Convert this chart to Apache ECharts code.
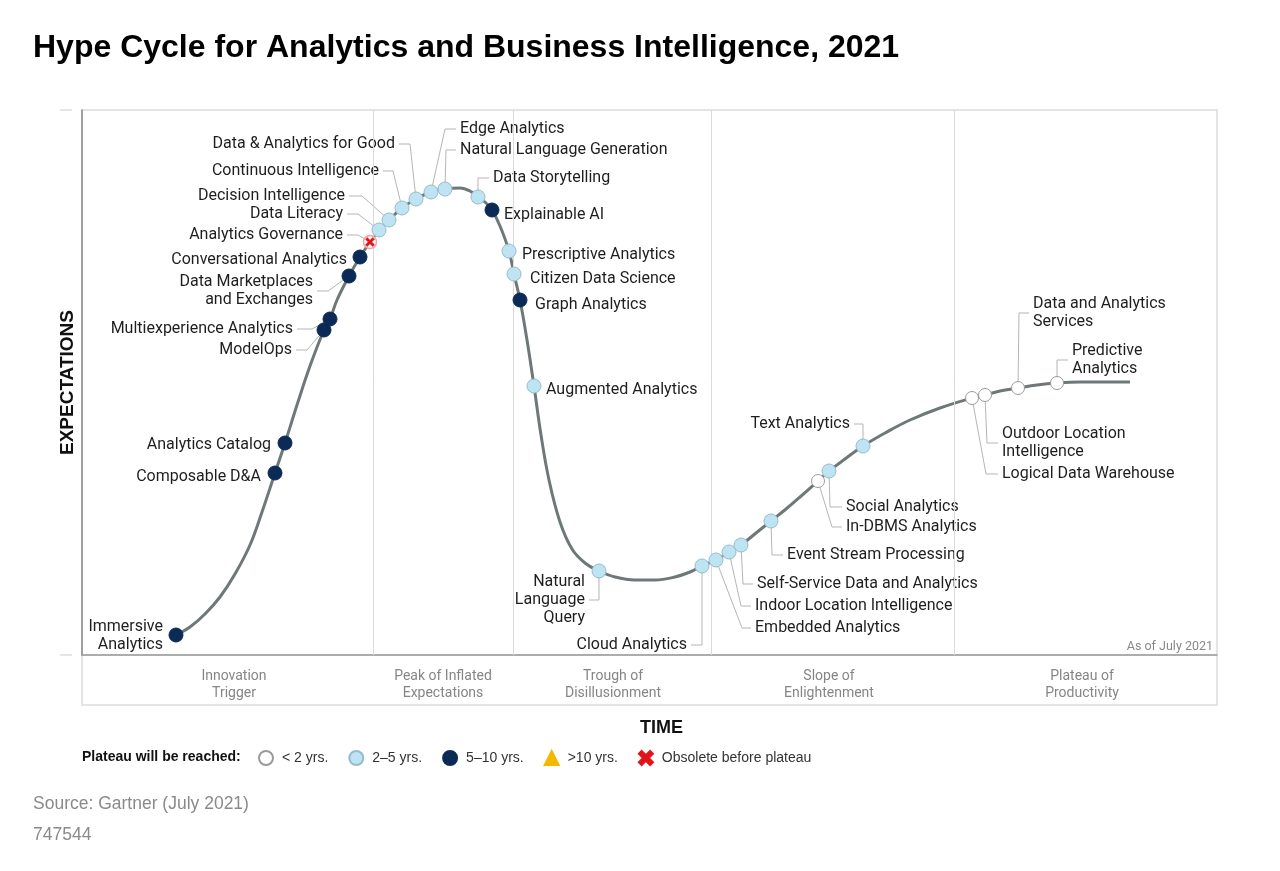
<!DOCTYPE html>
<html><head><meta charset="utf-8">
<script src="https://cdn.jsdelivr.net/npm/echarts@6/dist/echarts.min.js"></script>
<style>html,body{margin:0;padding:0;background:#fff}#c{width:1280px;height:871px}</style>
</head><body><div id="c"></div>
<script>
// ---- Data (x: time position, y: expectations level) ----
const curveX = [176,190,205,220,235,250,262,275,285,297,310,324,330,337,349,360,370,379,389,402,416,431,445,460,470,478,486,492,500,509,514,520,527,534,541,549,560,572,585,599,615,635,655,675,690,702,716,729,741,756,771,786,800,818,829,845,863,885,910,940,972,985,1000,1018,1037,1057,1080,1105,1130];
const curveY = [20,28,41,58,81,110,143,182,212,250,289,325,336,355,379,398,413,425,435,447,456,463,466,467,464,458,452,445,429,404,381,355,315,269,220,175,133,106,92,84,78,75,75,78,83,89,95,103,110,122,134,146,158,174,184,196,209,222,235,247,257,260,264,267,270,272,273,273,273];

const techNames = ["Immersive\nAnalytics","Composable D&A","Analytics Catalog","ModelOps","Multiexperience Analytics","Data Marketplaces\nand Exchanges","Conversational Analytics","Analytics Governance","Data Literacy","Decision Intelligence","Continuous Intelligence","Data & Analytics for Good","Edge Analytics","Natural Language Generation","Data Storytelling","Explainable AI","Prescriptive Analytics","Citizen Data Science","Graph Analytics","Augmented Analytics","Natural\nLanguage\nQuery","Cloud Analytics","Embedded Analytics","Indoor Location Intelligence","Self-Service Data and Analytics","Event Stream Processing","In-DBMS Analytics","Social Analytics","Text Analytics","Logical Data Warehouse","Outdoor Location\nIntelligence","Data and Analytics\nServices","Predictive\nAnalytics"];
const techX = [176,275,285,324,330,349,360,370,379,389,402,416,431,445,478,492,509,514,520,534,599,702,716,729,741,771,818,829,863,972,985,1018,1057];
const techY = [20,182,212,325,336,379,398,413,425,435,447,456,463,466,458,445,404,381,355,269,84,89,95,103,110,134,174,184,209,257,260,267,272];
// index into plateauClasses
const techPlateau = [2,2,2,2,2,2,2,4,1,1,1,1,1,1,1,2,1,1,2,1,1,1,1,1,1,1,0,1,1,0,0,0,0];
const plateauClasses = ["< 2 yrs.","2–5 yrs.","5–10 yrs.",">10 yrs.","Obsolete before plateau"];

const phaseNames = ["Innovation\nTrigger","Peak of Inflated\nExpectations","Trough of\nDisillusionment","Slope of\nEnlightenment","Plateau of\nProductivity"];
const phaseLabelX = [234,443,613,829,1082];
const phaseBounds = [373,513,711,954];

// ---- Label layout (pixel offsets from each dot): [dx, dy, align, leaderCornerDx or null] ----
const labelOffsets = [
  [-13,-1,'right',null],[-14,2,'right',null],[-14,0,'right',null],[-32,18,'right',-17],[-37,8,'right',-18],
  [-36,13,'right',-21],[-13,1,'right',null],[-27,-9,'right',-12],[-36,-18,'right',-21],[-44,-26,'right',-27],
  [-23,-39,'right',-9],[-21,-57,'right',-6],[29,-65,'left',14],[15,-41,'left',1],[15,-21,'left',0],
  [12,3,'left',null],[13,2,'left',null],[16,3,'left',null],[15,3,'left',null],[12,2,'left',null],
  [-14,27,'right',0],[-15,77,'right',0],[39,66,'left',26],[26,52,'left',12],[16,37,'left',2],
  [16,32,'left',1],[28,44,'left',14],[17,34,'left',1],[-13,-24,'right',0],[30,74,'left',14],
  [17,46,'left',2],[15,-77,'left',1],[15,-25,'left',0]
];

const COLORS = {
  white:'#ffffff', light:'#bee4f3', dark:'#0b2b56', amber:'#f5b800', red:'#e3141b'
};
const xPath = 'path://M2,0 L5,3 L8,0 L10,2 L7,5 L10,8 L8,10 L5,7 L2,10 L0,8 L3,5 L0,2 Z';

function classData(ci){
  const out=[];
  for(let i=0;i<techX.length;i++){ if(techPlateau[i]===ci) out.push([techX[i],techY[i],i]); }
  return out;
}
const curveData = curveX.map((x,i)=>[x,curveY[i]]);
const labelData = techX.map((x,i)=>[x,techY[i],i]);

const chart = echarts.init(document.getElementById('c'), null, {renderer:'canvas'});
const FONT = 'Roboto, "Noto Sans", sans-serif';
const ARIAL = '"Liberation Sans", Arial, sans-serif';

const option = {
  animation:false,
  backgroundColor:'#fff',
  title:[
    {text:'Hype Cycle for Analytics and Business Intelligence, 2021', left:28, top:27,
     textStyle:{fontFamily:ARIAL, fontSize:32, fontWeight:'bold', color:'#000'}},
    {text:'Source: Gartner (July 2021)', left:28, top:790,
     textStyle:{fontFamily:ARIAL, fontSize:17.5, fontWeight:'normal', color:'#8a8a8a'}},
    {text:'747544', left:28, top:821,
     textStyle:{fontFamily:ARIAL, fontSize:17.5, fontWeight:'normal', color:'#8a8a8a'}}
  ],
  grid:[
    {left:82, right:63, top:110, bottom:216, show:true, borderColor:'#dcdcdc', borderWidth:1.5, backgroundColor:'#fff'},
    {left:82, right:63, top:655, height:50, show:true, borderColor:'#dcdcdc', borderWidth:1.5, backgroundColor:'#fff'}
  ],
  xAxis:[
    {type:'value', gridIndex:0, min:82, max:1217, axisLine:{show:true, lineStyle:{color:'#9a9a9a', width:1.5}},
     axisTick:{show:false}, axisLabel:{show:false}, splitLine:{show:false}},
    {type:'value', gridIndex:1, min:82, max:1217, axisLine:{show:false}, axisTick:{show:false}, axisLabel:{show:false}, splitLine:{show:false},
     name:'TIME', nameLocation:'middle', nameGap:14,
     nameTextStyle:{fontFamily:ARIAL, fontSize:18, fontWeight:'bold', color:'#111', padding:[0,0,0,24]}}
  ],
  yAxis:[
    {type:'value', gridIndex:0, min:0, max:545, axisLine:{show:true, lineStyle:{color:'#8a8a8a', width:1.5}},
     axisTick:{show:false}, axisLabel:{show:false}, splitLine:{show:false},
     name:'EXPECTATIONS', nameLocation:'middle', nameRotate:90, nameGap:5,
     nameTextStyle:{fontFamily:ARIAL, fontSize:19, fontWeight:'bold', color:'#111'}},
    {type:'value', gridIndex:0, position:'left', min:0, max:545, interval:545, offset:10, axisLine:{show:false},
     axisTick:{show:true, length:12, lineStyle:{color:'#dddddd', width:1.5}}, axisLabel:{show:false}, splitLine:{show:false}},
    {type:'value', gridIndex:1, min:0, max:1, show:false}
  ],
  legend:{
    left:253, top:745, itemWidth:14, itemHeight:14, itemGap:20,
    textStyle:{fontFamily:ARIAL, fontSize:14, color:'#333', padding:[0,0,0,4]},
    data:[
      {name:plateauClasses[0], icon:'circle'},
      {name:plateauClasses[1], icon:'circle'},
      {name:plateauClasses[2], icon:'circle'},
      {name:plateauClasses[3], icon:'triangle'},
      {name:plateauClasses[4], icon:xPath}
    ],
    selectedMode:false
  },
  graphic:[
    {type:'text', left:82, top:750, style:{text:'Plateau will be reached:', font:'bold 14px '+ARIAL, fill:'#111'}},
    {type:'text', right:67, top:640, style:{text:'As of July 2021', font:'12.5px '+FONT, fill:'#888'}}
  ],
  series:[
    {type:'line', name:'curve', xAxisIndex:0, yAxisIndex:0, data:curveData, smooth:0.4, showSymbol:false, silent:true,
     lineStyle:{color:'#6e7878', width:3}, z:2,
     markLine:{silent:true, symbol:'none', label:{show:false}, lineStyle:{color:'#dadada', width:1, type:'solid'},
       data:phaseBounds.map(v=>({xAxis:v}))}},
    {type:'custom', name:'labels', xAxisIndex:0, yAxisIndex:0, data:labelData, z:1, silent:true,
     encode:{x:0,y:1},
     renderItem:function(params, api){
       const i = api.value(2);
       const p = api.coord([api.value(0), api.value(1)]);
       const lo = labelOffsets[i];
       const tx = p[0]+lo[0], ty = p[1]+lo[1]+2;
       const children = [];
       if(lo[3]!==null){
         const gap = lo[2]==='right' ? 4 : -4;
         children.push({type:'polyline', shape:{points:[[p[0],p[1]],[p[0]+lo[3],ty],[tx+gap,ty]]},
           style:{stroke:'#b5b5b5', lineWidth:1, fill:null}});
       }
       children.push({type:'text', style:{text:techNames[i], x:tx, y:ty, align:lo[2], verticalAlign:'middle',
         font:'16px '+FONT, fill:'#1e1e1e', lineHeight:18}});
       return {type:'group', children:children};
     }},
    {type:'scatter', name:plateauClasses[0], xAxisIndex:0, yAxisIndex:0, data:classData(0), symbol:'circle', symbolSize:13, z:5,
     itemStyle:{color:COLORS.white, borderColor:'#9a9a9a', borderWidth:1, opacity:1}},
    {type:'scatter', name:plateauClasses[1], xAxisIndex:0, yAxisIndex:0, data:classData(1), symbol:'circle', symbolSize:14, z:5,
     itemStyle:{color:COLORS.light, borderColor:'#96bccb', borderWidth:1, opacity:1}},
    {type:'scatter', name:plateauClasses[2], xAxisIndex:0, yAxisIndex:0, data:classData(2), symbol:'circle', symbolSize:14, z:5,
     itemStyle:{color:COLORS.dark, borderColor:COLORS.dark, borderWidth:1, opacity:1}},
    {type:'scatter', name:plateauClasses[3], xAxisIndex:0, yAxisIndex:0, data:classData(3), symbol:'triangle', symbolSize:14, z:5,
     itemStyle:{color:COLORS.amber, borderColor:COLORS.amber, borderWidth:1, opacity:1}},
    {type:'scatter', name:'obsoleteRing', xAxisIndex:0, yAxisIndex:0, data:classData(4), symbol:'circle', symbolSize:13, z:5,
     itemStyle:{color:'#fff', borderColor:'#f2a3a3', borderWidth:1.5, opacity:1}},
    {type:'scatter', name:plateauClasses[4], xAxisIndex:0, yAxisIndex:0, data:classData(4), symbol:xPath, symbolSize:9, z:6,
     itemStyle:{color:COLORS.red, borderColor:COLORS.red, borderWidth:0.5, opacity:1}},
    {type:'scatter', name:'phases', xAxisIndex:1, yAxisIndex:2, data:phaseLabelX.map((x,i)=>({value:[x,0.5], name:phaseNames[i]})),
     symbolSize:0, silent:true,
     label:{show:true, position:'inside', offset:[0,5], formatter:'{b}', fontFamily:FONT, fontSize:14, color:'#666', lineHeight:17}}
  ]
};
chart.setOption(option);
</script>
</body></html>
